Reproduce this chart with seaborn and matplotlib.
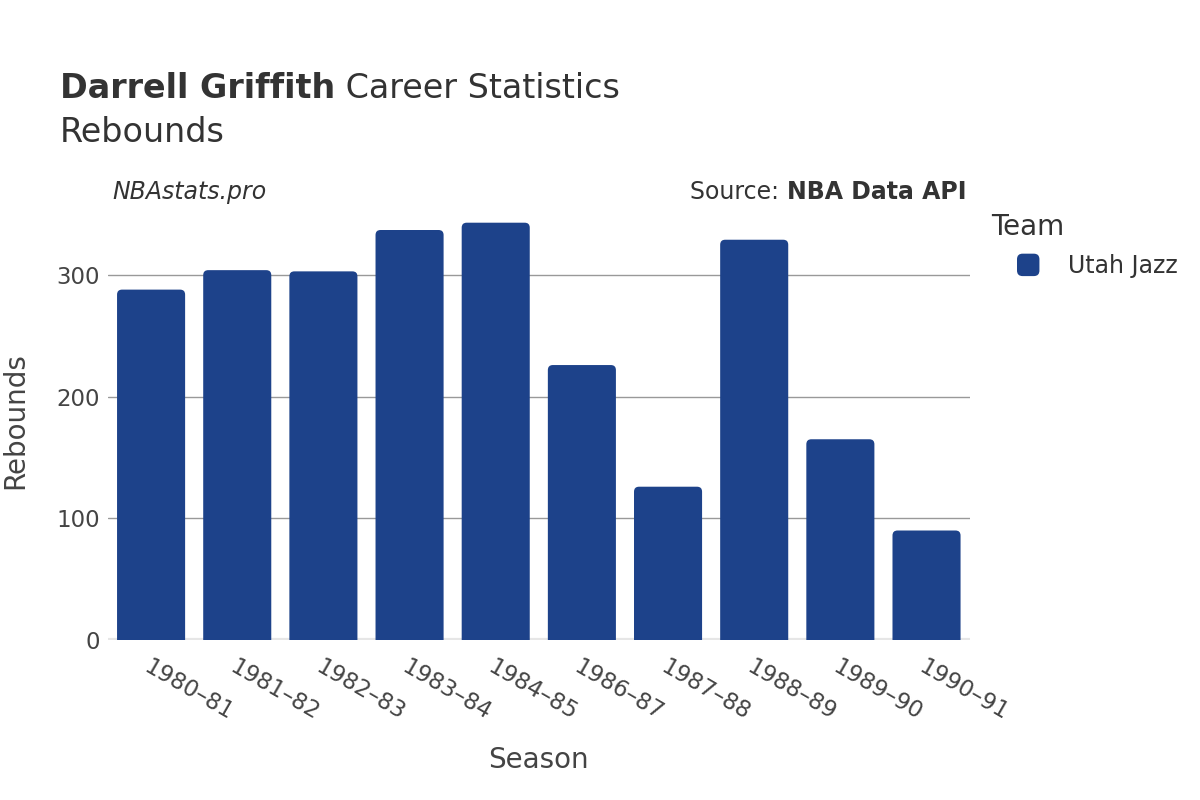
import matplotlib
matplotlib.use("Agg")
import matplotlib.pyplot as plt
import seaborn as sns
import pandas as pd
from matplotlib.patches import FancyBboxPatch
from matplotlib.legend_handler import HandlerPatch

seasons = ["1980–81", "1981–82", "1982–83", "1983–84", "1984–85",
           "1986–87", "1987–88", "1988–89", "1989–90", "1990–91"]
rebounds = [288, 304, 303, 337, 343, 226, 126, 329, 165, 90]
team = "Utah Jazz"
bar_color = "#1d428a"

df = pd.DataFrame({"Season": seasons, "Rebounds": rebounds, "Team": team})

sns.set_theme(style="white")
plt.rcParams["font.family"] = ["DejaVu Sans"]
text_color = "#333333"

fig = plt.figure(figsize=(12, 8), dpi=100)
ax = fig.add_axes([0.09, 0.2, 0.718, 0.549])

sns.barplot(data=df, x="Season", y="Rebounds", color=bar_color,
            width=0.79, saturation=1, ax=ax, zorder=3)

ymax = 361
ax.set_ylim(0, ymax)
ax.set_xlim(-0.5, len(seasons) - 0.5)

# swap plain bars for rounded ones
fig.canvas.draw()
renderer = fig.canvas.get_renderer()
px_x = ax.transData.transform((1, 0))[0] - ax.transData.transform((0, 0))[0]
px_y = ax.transData.transform((0, 1))[1] - ax.transData.transform((0, 0))[1]
radius = 5 / px_x
aspect = px_x / px_y
for bar in list(ax.patches):
    x, w, h = bar.get_x(), bar.get_width(), bar.get_height()
    bar.remove()
    ax.add_patch(FancyBboxPatch(
        (x, -10), w, h + 10,
        boxstyle=f"round,pad=0,rounding_size={radius}",
        mutation_aspect=aspect, facecolor=bar_color, edgecolor="none",
        zorder=3, clip_on=True,
    ))

ax.set_yticks([0, 100, 200, 300])
ax.yaxis.grid(True, color="#999999", linewidth=1, zorder=0)
ax.axhline(0, color="#e6e6e6", linewidth=3, zorder=2)
for s in ax.spines.values():
    s.set_visible(False)

ax.tick_params(axis="both", length=0, labelsize=16.5, labelcolor="#444444")
ax.tick_params(axis="x", pad=11)
ax.tick_params(axis="y", pad=6)
plt.setp(ax.get_xticklabels(), rotation=-30, ha="left", rotation_mode="anchor")
ax.set_xlabel("Season", fontsize=20, color="#444444", va="center")
ax.set_ylabel("Rebounds", fontsize=20, color="#444444", va="center")
ax.xaxis.set_label_coords(0.5, -0.273)
ax.yaxis.set_label_coords(-0.108, 0.5)


def text_width(t):
    bb = t.get_window_extent(renderer=renderer)
    return bb.width / fig.bbox.width


t1 = fig.text(0.05, 0.889, "Darrell Griffith", fontsize=24, fontweight="bold",
              color=text_color, va="center")
fig.text(0.05 + text_width(t1), 0.889, " Career Statistics", fontsize=24,
         color=text_color, va="center")
fig.text(0.05, 0.834, "Rebounds", fontsize=24, color=text_color, va="center")

fig.text(0.094, 0.76, "NBAstats.pro", fontsize=17, style="italic",
         color=text_color, va="center")
t2 = fig.text(0.805, 0.76, "NBA Data API", fontsize=17, fontweight="bold",
              color=text_color, va="center", ha="right")
fig.text(0.805 - text_width(t2), 0.76, "Source: ", fontsize=17,
         color=text_color, va="center", ha="right")

# legend
fig.text(991 / 1200, 1 - 227 / 800, "Team", fontsize=20, color=text_color,
         va="center")


class RoundHandler(HandlerPatch):
    def create_artists(self, legend, orig_handle, xdescent, ydescent,
                       width, height, fontsize, trans):
        p = FancyBboxPatch((-xdescent, -ydescent + (height - width) / 2),
                           width, width,
                           boxstyle="round,pad=0,rounding_size=4",
                           facecolor=bar_color, edgecolor="none",
                           transform=trans)
        return [p]


handle = FancyBboxPatch((0, 0), 1, 1, facecolor=bar_color, label=team)
leg = fig.legend(handles=[handle], loc="center left",
                 bbox_to_anchor=(1017 / 1200, 1 - 266 / 800), frameon=False,
                 fontsize=17, handlelength=0.95, handleheight=0.95,
                 handletextpad=1.2, borderaxespad=0, borderpad=0,
                 handler_map={FancyBboxPatch: RoundHandler()})
for t in leg.get_texts():
    t.set_color(text_color)

fig.savefig("out.png", dpi=100)
